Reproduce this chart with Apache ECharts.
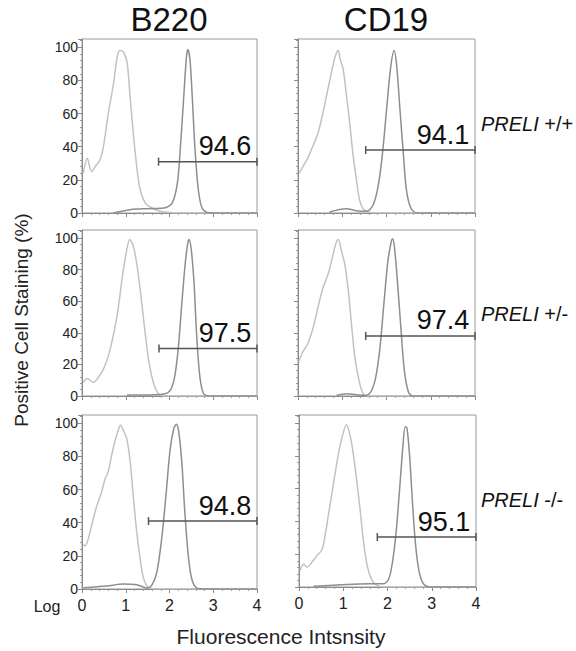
<!DOCTYPE html>
<html>
<head>
<meta charset="utf-8">
<script src="https://cdn.jsdelivr.net/npm/echarts@6/dist/echarts.min.js"></script>
<style>
  html, body { margin: 0; padding: 0; background: #fff; }
  #chart { width: 576px; height: 651px; }
</style>
</head>
<body>
<div id="chart"></div>
<script>
// x = log10 fluorescence (0-4), y = % of max
const b220WtIso = [[0.03,24],[0.12,33],[0.22,25],[0.3,28],[0.41,32],[0.49,40],[0.6,60],[0.72,78],[0.81,95],[0.87,98],[0.95,97],[1.03,91],[1.1,70],[1.18,46],[1.26,26],[1.33,14],[1.45,6],[1.6,3],[1.79,1],[1.95,0.5],[2.2,0],[4,0]]
const b220WtStain = [[0.72,0],[1.1,2],[1.49,2.6],[1.87,3],[2.06,6],[2.18,18],[2.25,40],[2.33,72],[2.39,95],[2.42,98.6],[2.47,92],[2.52,70],[2.58,40],[2.65,16],[2.73,4],[2.83,0.6],[3.02,0],[4,0]]
const cd19WtIso = [[0.03,24],[0.11,28],[0.22,33],[0.33,40],[0.45,48],[0.56,60],[0.67,74],[0.79,89],[0.86,96],[0.91,98],[0.95,93],[1.02,87],[1.09,72],[1.17,54],[1.24,36],[1.32,20],[1.39,8],[1.47,2.6],[1.58,0.6],[1.8,0],[4,0]]
const cd19WtStain = [[0.71,0.6],[1.09,2.6],[1.36,1.2],[1.55,1],[1.7,5],[1.81,16],[1.91,36],[2.0,62],[2.09,87],[2.17,98],[2.23,89],[2.3,64],[2.38,36],[2.45,14],[2.55,3],[2.68,0],[4,0]]
const b220HetIso = [[0.03,8.6],[0.12,11],[0.26,8.6],[0.38,12],[0.49,17],[0.61,26],[0.72,39],[0.82,54],[0.92,75],[1.02,92],[1.09,99],[1.17,95],[1.25,84],[1.34,65],[1.43,43],[1.53,21.5],[1.63,8.6],[1.73,2],[1.84,0],[4,0]]
const b220HetStain = [[1.03,0.6],[1.8,1],[2.0,3],[2.11,11],[2.2,30],[2.28,58],[2.36,84],[2.42,97],[2.45,99],[2.5,92],[2.56,72],[2.62,39],[2.69,13],[2.77,2],[2.88,0],[4,0]]
const cd19HetIso = [[0.02,22],[0.11,28],[0.22,33],[0.34,43],[0.45,56],[0.56,68],[0.68,77],[0.78,88],[0.85,96],[0.91,99],[0.98,92],[1.06,83],[1.14,66],[1.21,45],[1.29,23.5],[1.39,8.5],[1.48,1],[1.57,0],[4,0]]
const cd19HetStain = [[0.87,0.4],[1.1,1.5],[1.48,0.4],[1.63,2],[1.75,11],[1.85,30],[1.94,58],[2.03,85],[2.11,98],[2.14,99.4],[2.18,94],[2.24,75],[2.32,45],[2.4,17],[2.49,3],[2.59,0],[4,0]]
const b220KoIso = [[0.02,27],[0.07,26],[0.14,30],[0.22,38.5],[0.3,46.6],[0.37,52.6],[0.45,58.7],[0.53,66.7],[0.6,70.8],[0.68,81],[0.75,89],[0.83,96],[0.88,99],[0.94,96],[1.02,91],[1.1,77],[1.17,56.7],[1.25,34.5],[1.33,18],[1.4,7],[1.48,2],[1.55,0.6],[1.7,0],[4,0]]
const b220KoStain = [[0.03,0.8],[0.56,1.8],[0.94,3],[1.25,2.6],[1.48,0.6],[1.59,2],[1.71,10],[1.82,30],[1.92,56.7],[2.01,83],[2.1,97],[2.16,99.4],[2.21,95],[2.28,77],[2.35,46.6],[2.43,20],[2.51,6],[2.62,0.6],[2.8,0],[4,0]]
const cd19KoIso = [[0.02,10],[0.11,14],[0.18,12],[0.26,14],[0.33,16.5],[0.42,19.6],[0.52,22.7],[0.6,33],[0.67,45],[0.75,58],[0.82,70],[0.9,82.5],[0.97,91],[1.07,99],[1.15,93],[1.22,82.5],[1.3,66],[1.39,45],[1.46,27],[1.55,12],[1.65,4],[1.76,1],[1.91,0],[4,0]]
const cd19KoStain = [[0.33,0.4],[1.08,1.6],[1.61,2],[1.91,2],[2.03,5],[2.12,16.5],[2.2,35],[2.28,62],[2.35,86.6],[2.4,98],[2.44,97],[2.5,80],[2.56,53.6],[2.63,27],[2.71,10],[2.81,2],[2.94,0],[4,0]]

// gates: start x, y level, percent positive
const gateStart = [1.75, 1.53, 1.76, 1.53, 1.52, 1.77]
const gateLevel = [31, 38, 30, 38, 41, 30.5]
const gatePct = ['94.6', '94.1', '97.5', '97.4', '94.8', '95.1']

const markers = ['B220', 'CD19']
const genotypes = ['+/+', '+/-', '-/-']
const yTicks = [0, 20, 40, 60, 80, 100]
const xTicks = [0, 1, 2, 3, 4]

const isoData = [b220WtIso, cd19WtIso, b220HetIso, cd19HetIso, b220KoIso, cd19KoIso]
const stainData = [b220WtStain, cd19WtStain, b220HetStain, cd19HetStain, b220KoStain, cd19KoStain]

const font = "'Liberation Sans', Arial, sans-serif"
const grids = [
  { left: 82, top: 39, width: 175, height: 174 },
  { left: 298, top: 39, width: 177, height: 174 },
  { left: 82, top: 230, width: 175, height: 166 },
  { left: 298, top: 230, width: 177, height: 166 },
  { left: 82, top: 415, width: 175, height: 174 },
  { left: 299, top: 415, width: 177, height: 172 }
]

const chart = echarts.init(document.getElementById('chart'), null, { renderer: 'svg' })

const xAxis = []
const yAxis = []
const series = []
grids.forEach((g, i) => {
  g.show = true
  g.borderColor = '#9a9a9a'
  g.borderWidth = 1
  const bottomRow = i >= 4
  const leftCol = i % 2 === 0
  xAxis.push({
    gridIndex: i, type: 'value', min: xTicks[0], max: xTicks[xTicks.length - 1], interval: 1,
    axisLine: { lineStyle: { color: '#8a8a8a', width: 1 } },
    axisTick: { length: 4, lineStyle: { color: '#8a8a8a' } },
    minorTick: { show: true, splitNumber: 5, length: 2, lineStyle: { color: '#9a9a9a' } },
    splitLine: { show: false },
    axisLabel: { show: bottomRow, fontFamily: font, fontSize: 16, color: '#222', margin: 8 }
  })
  yAxis.push({
    gridIndex: i, type: 'value', min: 0, max: 105, interval: 20,
    axisLine: { lineStyle: { color: '#8a8a8a', width: 1 } },
    axisTick: { length: 4, lineStyle: { color: '#8a8a8a' } },
    minorTick: { show: true, splitNumber: 5, length: 2, lineStyle: { color: '#9a9a9a' } },
    splitLine: { show: false },
    axisLabel: {
      show: leftCol, showMaxLabel: false, fontFamily: font, fontSize: 14, color: '#222', margin: 4,
      formatter: v => (yTicks.indexOf(v) >= 0 ? String(v) : '')
    }
  })
  series.push({
    type: 'line', xAxisIndex: i, yAxisIndex: i, data: isoData[i], showSymbol: false,
    smooth: 0.3, lineStyle: { color: '#c2c2c2', width: 1.5 }, silent: true
  })
  series.push({
    type: 'line', xAxisIndex: i, yAxisIndex: i, data: stainData[i], showSymbol: false,
    smooth: 0.3, lineStyle: { color: '#8e8e8e', width: 1.5 }, silent: true
  })
  series.push({
    type: 'line', xAxisIndex: i, yAxisIndex: i, clip: false, silent: true,
    symbol: 'rect', symbolSize: [1.5, 8], showSymbol: true,
    itemStyle: { color: '#555' },
    lineStyle: { color: '#555', width: 1.5 },
    data: [
      [gateStart[i], gateLevel[i]],
      {
        value: [4, gateLevel[i]],
        label: {
          show: true, formatter: gatePct[i], position: [0, 0], align: 'right', verticalAlign: 'bottom',
          offset: [-5, 2], fontFamily: font, fontSize: 27, color: '#111', lineHeight: 27
        }
      }
    ]
  })
})

const graphic = [
  { type: 'text', x: 169, y: 19, style: { text: markers[0], font: '33px ' + font, fill: '#111', align: 'center', verticalAlign: 'middle' } },
  { type: 'text', x: 386, y: 19, style: { text: markers[1], font: '33px ' + font, fill: '#111', align: 'center', verticalAlign: 'middle' } },
  { type: 'text', x: 21, y: 320, rotation: Math.PI / 2, style: { text: 'Positive Cell Staining (%)', font: '19px ' + font, fill: '#222', align: 'center', verticalAlign: 'middle' } },
  { type: 'text', x: 281, y: 636, style: { text: 'Fluorescence Intsnsity', font: '21px ' + font, fill: '#222', align: 'center', verticalAlign: 'middle' } },
  { type: 'text', x: 47, y: 606, style: { text: 'Log', font: '16px ' + font, fill: '#222', align: 'center', verticalAlign: 'middle' } }
]
const rowY = [124, 314, 500]
genotypes.forEach((gt, r) => {
  graphic.push({
    type: 'text', x: 481, y: rowY[r],
    style: {
      text: '{i|PRELI} ' + gt, fill: '#111', align: 'left', verticalAlign: 'middle',
      font: '20px ' + font,
      rich: { i: { fontStyle: 'italic', fontFamily: font, fontSize: 20, fill: '#111' } }
    }
  })
})

chart.setOption({
  animation: false,
  backgroundColor: '#fff',
  grid: grids,
  xAxis: xAxis,
  yAxis: yAxis,
  series: series,
  graphic: graphic
})
</script>
</body>
</html>
